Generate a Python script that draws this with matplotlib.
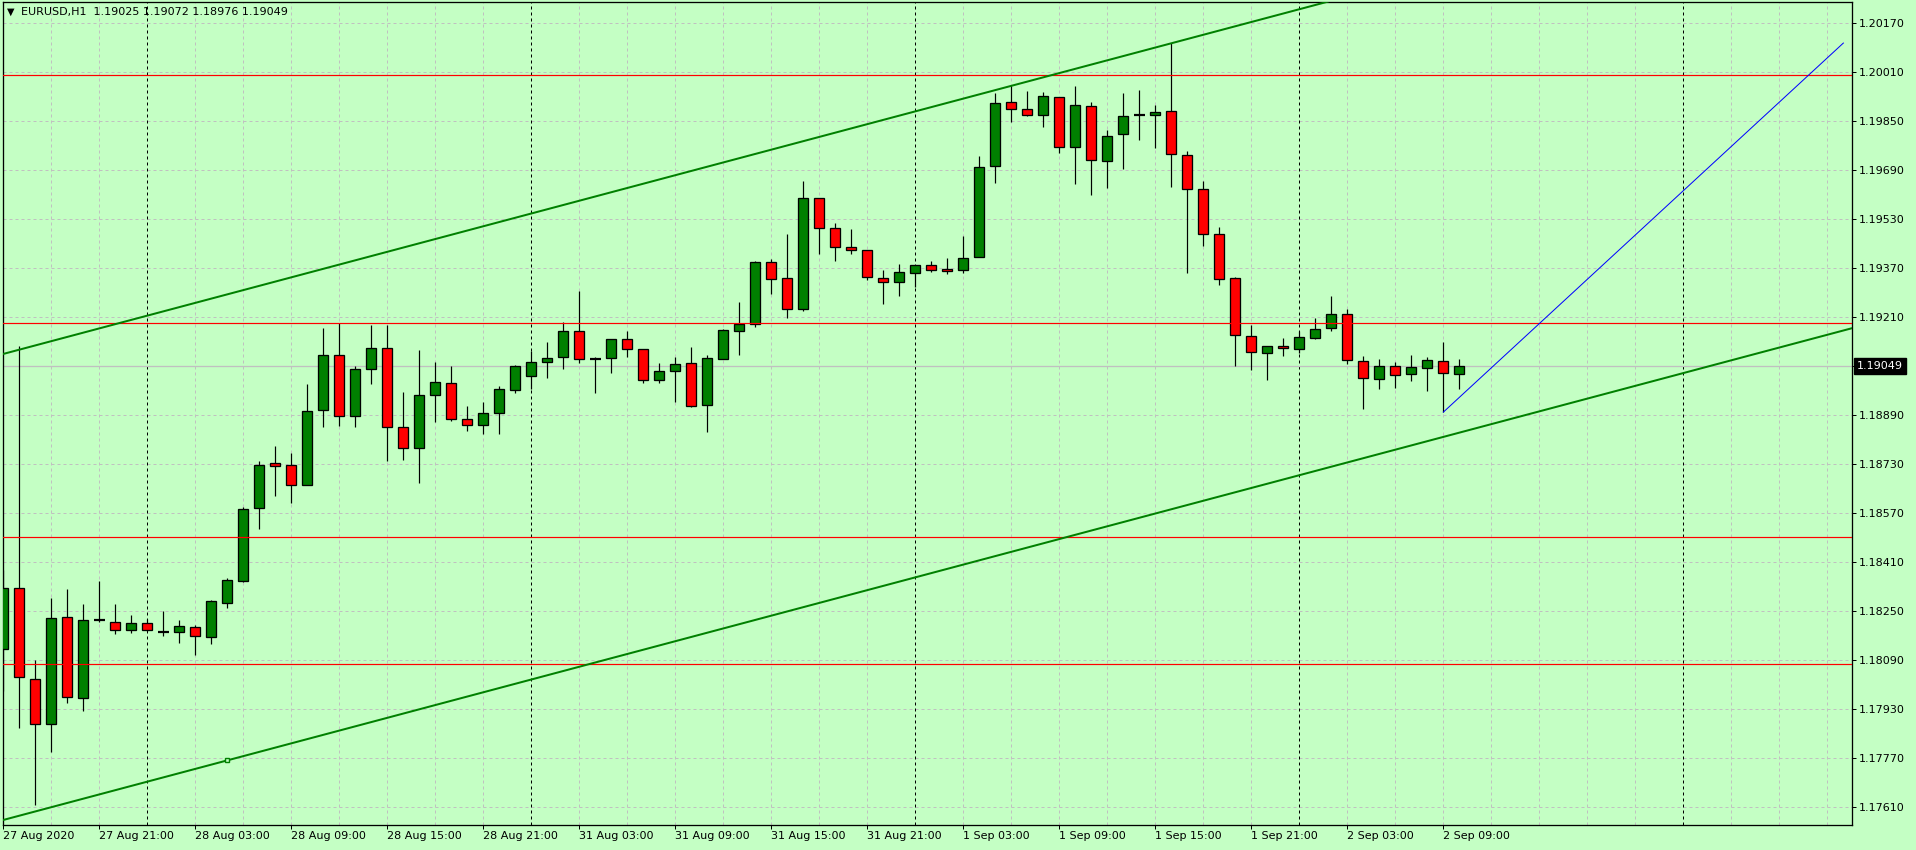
import numpy as np
import matplotlib
matplotlib.use("Agg")
import matplotlib.pyplot as plt
from matplotlib.transforms import blended_transform_factory

# EURUSD H1 bars, 27 Aug 15:00 .. 2 Sep 10:00
opens = [1.18126, 1.18325, 1.18028, 1.17881, 1.18230, 1.17965, 1.18221, 1.18214, 1.18188, 1.18211,
         1.18180, 1.18182, 1.18198, 1.18165, 1.18276, 1.18347, 1.18585, 1.18732, 1.18726, 1.18661,
         1.18905, 1.19085, 1.18886, 1.19039, 1.19108, 1.18850, 1.18781, 1.18954, 1.18993, 1.18876,
         1.18856, 1.18896, 1.18971, 1.19016, 1.19062, 1.19078, 1.19163, 1.19073, 1.19076, 1.19138,
         1.19105, 1.19004, 1.19034, 1.19060, 1.18922, 1.19073, 1.19164, 1.19187, 1.19389, 1.19337,
         1.19236, 1.19598, 1.19500, 1.19437, 1.19429, 1.19337, 1.19324, 1.19354, 1.19380, 1.19367,
         1.19363, 1.19406, 1.19703, 1.19910, 1.19890, 1.19870, 1.19929, 1.19763, 1.19900, 1.19720,
         1.19808, 1.19868, 1.19870, 1.19883, 1.19740, 1.19629, 1.19482, 1.19337, 1.19148, 1.19092,
         1.19115, 1.19105, 1.19141, 1.19174, 1.19220, 1.19066, 1.19008, 1.19050, 1.19024, 1.19043,
         1.19066, 1.19025]
highs = [1.18385, 1.19116, 1.18091, 1.18293, 1.18322, 1.18274, 1.18349, 1.18274, 1.18235, 1.18224,
         1.18249, 1.18219, 1.18205, 1.18285, 1.18359, 1.18590, 1.18740, 1.18789, 1.18765, 1.18991,
         1.19174, 1.19190, 1.19049, 1.19184, 1.19184, 1.18965, 1.19102, 1.19063, 1.19050, 1.18919,
         1.18933, 1.18985, 1.19052, 1.19098, 1.19127, 1.19193, 1.19293, 1.19078, 1.19139, 1.19165,
         1.19105, 1.19058, 1.19080, 1.19113, 1.19084, 1.19171, 1.19260, 1.19393, 1.19399, 1.19481,
         1.19655, 1.19598, 1.19515, 1.19497, 1.19429, 1.19364, 1.19383, 1.19380, 1.19393, 1.19403,
         1.19474, 1.19735, 1.19942, 1.19966, 1.19947, 1.19943, 1.19929, 1.19963, 1.19911, 1.19819,
         1.19940, 1.19950, 1.19901, 1.20105, 1.19750, 1.19655, 1.19502, 1.19340, 1.19185, 1.19115,
         1.19141, 1.19164, 1.19207, 1.19278, 1.19236, 1.19083, 1.19073, 1.19063, 1.19086, 1.19079,
         1.19129, 1.19072]
lows = [1.17988, 1.17868, 1.17616, 1.17789, 1.17949, 1.17923, 1.18214, 1.18174, 1.18177, 1.18186,
        1.18167, 1.18145, 1.18105, 1.18141, 1.18259, 1.18343, 1.18519, 1.18624, 1.18601, 1.18660,
        1.18849, 1.18855, 1.18849, 1.18992, 1.18738, 1.18744, 1.18666, 1.18868, 1.18869, 1.18836,
        1.18829, 1.18826, 1.18963, 1.18974, 1.19009, 1.19041, 1.19058, 1.18960, 1.19026, 1.19078,
        1.18993, 1.18993, 1.18931, 1.18915, 1.18833, 1.19073, 1.19085, 1.19177, 1.19284, 1.19207,
        1.19230, 1.19414, 1.19392, 1.19414, 1.19330, 1.19251, 1.19277, 1.19307, 1.19356, 1.19349,
        1.19352, 1.19406, 1.19647, 1.19846, 1.19867, 1.19830, 1.19745, 1.19644, 1.19608, 1.19631,
        1.19693, 1.19788, 1.19762, 1.19634, 1.19354, 1.19442, 1.19314, 1.19049, 1.19036, 1.19003,
        1.19082, 1.19092, 1.19138, 1.19164, 1.19057, 1.18909, 1.18974, 1.18977, 1.19000, 1.18967,
        1.18899, 1.18976]
closes = [1.18325, 1.18035, 1.17881, 1.18227, 1.17969, 1.18221, 1.18221, 1.18188, 1.18211, 1.18188,
          1.18180, 1.18201, 1.18168, 1.18283, 1.18351, 1.18582, 1.18726, 1.18723, 1.18661, 1.18902,
          1.19085, 1.18886, 1.19039, 1.19108, 1.18850, 1.18781, 1.18954, 1.18997, 1.18876, 1.18856,
          1.18896, 1.18974, 1.19049, 1.19062, 1.19075, 1.19163, 1.19072, 1.19073, 1.19138, 1.19105,
          1.19004, 1.19034, 1.19057, 1.18918, 1.19076, 1.19168, 1.19187, 1.19389, 1.19334, 1.19236,
          1.19598, 1.19500, 1.19438, 1.19429, 1.19340, 1.19324, 1.19357, 1.19380, 1.19363, 1.19360,
          1.19403, 1.19700, 1.19909, 1.19890, 1.19870, 1.19932, 1.19763, 1.19903, 1.19723, 1.19802,
          1.19867, 1.19868, 1.19880, 1.19743, 1.19629, 1.19482, 1.19335, 1.19151, 1.19096, 1.19115,
          1.19109, 1.19145, 1.19171, 1.19220, 1.19070, 1.19011, 1.19050, 1.19021, 1.19047, 1.19070,
          1.19027, 1.19049]

time_ticks = [0, 6, 12, 18, 24, 30, 36, 42, 48, 54, 60, 66, 72, 78, 84, 90]
time_labels = ["27 Aug 2020", "27 Aug 21:00", "28 Aug 03:00", "28 Aug 09:00", "28 Aug 15:00",
               "28 Aug 21:00", "31 Aug 03:00", "31 Aug 09:00", "31 Aug 15:00", "31 Aug 21:00",
               "1 Sep 03:00", "1 Sep 09:00", "1 Sep 15:00", "1 Sep 21:00", "2 Sep 03:00",
               "2 Sep 09:00"]
day_separators = [9, 33, 57, 81, 105]
price_ticks = [1.17610, 1.17770, 1.17930, 1.18090, 1.18250, 1.18410, 1.18570, 1.18730,
               1.18890, 1.19050, 1.19210, 1.19370, 1.19530, 1.19690, 1.19850, 1.20010, 1.20170]

# objects drawn on the chart
hlines = [1.20001, 1.19190, 1.18491, 1.18076]
upper_channel = [(0, 1.19089), (66, 1.20006)]
lower_channel = [(14, 1.17762), (91, 1.18832)]
blue_line = [(90, 1.18899), (115, 1.20104)]
bid = 1.19049
header = "EURUSD,H1  1.19025 1.19072 1.18976 1.19049"

BG = "#c4ffc4"
BULL = "#008000"
BEAR = "#ff0000"
PX = 0.72  # one pixel in points at dpi 100

fig = plt.figure(figsize=(19.16, 8.5), dpi=100)
fig.patch.set_facecolor(BG)
ax = fig.add_axes([2.5 / 1916, 25 / 850, 1849.5 / 1916, 823.3 / 850])
ax.set_facecolor(BG)
ax.set_xlim(-0.05, 115.54)
ax.set_ylim(1.17551, 1.20239)

# grid
for i in range(0, 116, 3):
    if i not in day_separators:
        ax.axvline(i, color="#c0c0c0", lw=PX, dashes=(3, 3), zorder=1)
for p in price_ticks:
    ax.axhline(p, color="#c0c0c0", lw=PX, dashes=(3, 3), zorder=1)
for i in day_separators:
    ax.axvline(i, color="black", lw=PX, dashes=(3, 3), zorder=1)

# bid line
ax.axhline(bid, color="#c0c0c0", lw=PX * 1.3, zorder=1.5)

# candles
x = np.arange(len(opens))
o = np.array(opens)
c = np.array(closes)
ax.vlines(x, lows, highs, color="black", lw=PX * 1.2, zorder=3)
up = c > o
dn = c < o
doji = c == o
ax.bar(x[up], (c - o)[up], bottom=o[up], width=0.62, color=BULL,
       edgecolor="black", linewidth=PX * 1.3, zorder=3)
ax.bar(x[dn], (c - o)[dn], bottom=o[dn], width=0.62, color=BEAR,
       edgecolor="black", linewidth=PX * 1.3, zorder=3)
ax.hlines(o[doji], x[doji] - 0.33, x[doji] + 0.33, color="black", lw=PX * 2.2, zorder=3)

# objects
for p in hlines:
    ax.axhline(p, color="#ff0000", lw=PX * 1.2, zorder=4)
ax.axline(*upper_channel, color="#008000", lw=PX * 2, zorder=4)
ax.axline(*lower_channel, color="#008000", lw=PX * 2, zorder=4)
ax.plot(lower_channel[0][0], lower_channel[0][1], marker="s", ms=3.5, mfc=BG,
        mec="#008000", mew=PX * 1.4, zorder=5)
ax.plot([blue_line[0][0], blue_line[1][0]], [blue_line[0][1], blue_line[1][1]],
        color="#0000ff", lw=PX, zorder=4)

# axes and ticks
for s in ax.spines.values():
    s.set_color("black")
    s.set_linewidth(PX * 1.3)
ax.yaxis.tick_right()
ax.set_yticks(price_ticks)
ax.set_yticklabels(["" if abs(p - 1.19050) < 1e-6 else f"{p:.5f}" for p in price_ticks])
ax.set_xticks(time_ticks)
ax.set_xticklabels(time_labels, ha="left")
ax.tick_params(axis="y", direction="out", length=4 * PX, width=PX, pad=3 * PX,
               labelsize=8, colors="black")
ax.tick_params(axis="x", direction="out", length=4 * PX, width=PX, pad=2 * PX,
               labelsize=8, colors="black")

tr = blended_transform_factory(ax.transAxes, ax.transData)
ax.text(1.0 + 5 / 1849.5, bid, f"{bid:.5f}", transform=tr, ha="left", va="center",
        fontsize=8, color="white",
        bbox=dict(boxstyle="square,pad=0.28", fc="black", ec="black"), zorder=6)

fig.text(7 / 1916, 1 - 12 / 850, "\u25bc", fontsize=7, va="center", ha="left", color="black")
fig.text(21 / 1916, 1 - 12 / 850, header, fontsize=8, va="center", ha="left", color="black")

fig.savefig("out.png", dpi=100, facecolor=BG)
